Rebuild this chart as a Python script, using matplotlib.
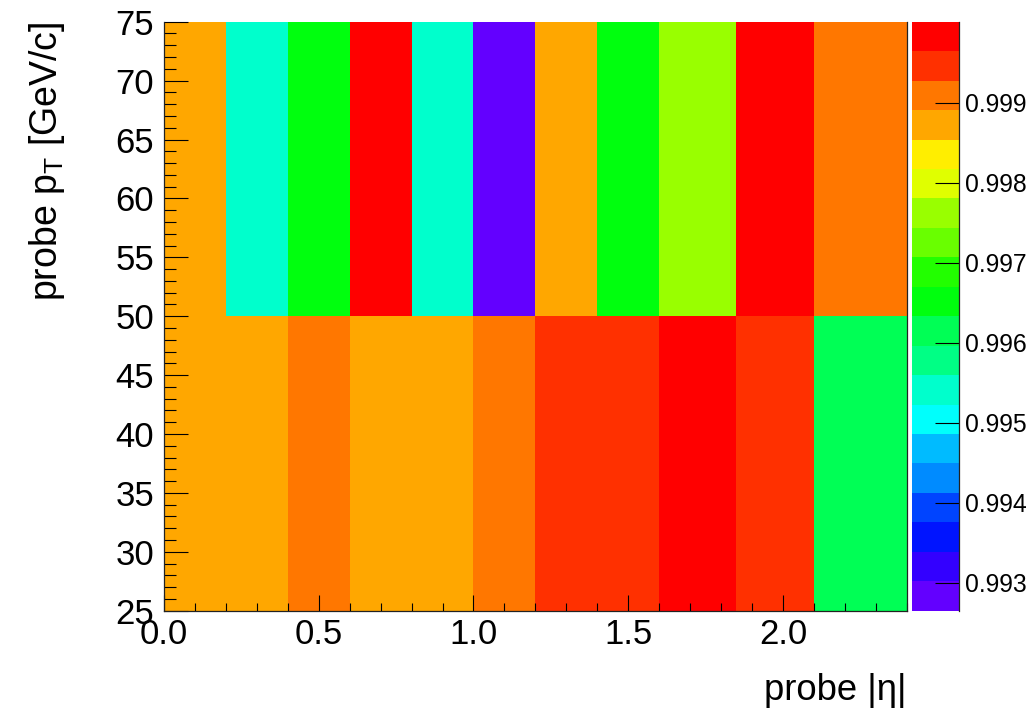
import colorsys
import numpy as np
import matplotlib
matplotlib.use("Agg")
import matplotlib.pyplot as plt
from matplotlib.colors import ListedColormap, BoundaryNorm
from matplotlib.ticker import MultipleLocator, FormatStrFormatter

plt.rcParams['font.family'] = ['Liberation Sans', 'DejaVu Sans']
plt.rcParams['mathtext.fontset'] = 'custom'
plt.rcParams['mathtext.rm'] = 'Liberation Sans'
plt.rcParams['mathtext.it'] = 'Liberation Sans'

# bin edges
eta_edges = [0.0, 0.2, 0.4, 0.6, 0.8, 1.0, 1.2, 1.4, 1.6, 1.85, 2.1, 2.4]
pt_edges = [25, 50, 75]

# efficiency per bin (rows: pt bins, cols: eta bins)
eff_pt25_50 = [0.9987, 0.9987, 0.9991, 0.9987, 0.9987, 0.9991,
               0.9995, 0.9995, 0.9998, 0.9995, 0.9961]
eff_pt50_75 = [0.9987, 0.9954, 0.9965, 1.0000, 0.9954, 0.99266,
               0.9987, 0.9965, 0.9976, 0.9999, 0.9991]

z_min = 0.99265
z_max = 1.00001
n_contours = 20
cbar_ticks = [0.993, 0.994, 0.995, 0.996, 0.997, 0.998, 0.999]

# ROOT "pretty" palette (50 colours, violet -> red), sampled for 20 contours
palette = []
for i in range(50):
    hue = 280 - (i + 1) * 5.6
    palette.append(colorsys.hls_to_rgb(hue / 360.0, 0.5, 1.0))
cols = [palette[int((k + 0.99) * 50 / n_contours)] for k in range(n_contours)]
cmap = ListedColormap(cols)
levels = np.linspace(z_min, z_max, n_contours + 1)
norm = BoundaryNorm(levels, cmap.N)

fig = plt.figure(figsize=(10.32, 7.13), dpi=100)
W, H = 1032.0, 713.0
ax = fig.add_axes([164 / W, 1 - 610.7 / H, (906.7 - 164) / W, (610.7 - 21.7) / H])
cax = fig.add_axes([911.7 / W, 1 - 610.7 / H, (959.3 - 911.7) / W, (610.7 - 21.7) / H])

Z = np.array([eff_pt25_50, eff_pt50_75])
mesh = ax.pcolormesh(eta_edges, pt_edges, Z, cmap=cmap, norm=norm)

ax.set_xlim(0, 2.4)
ax.set_ylim(25, 75)
ax.xaxis.set_major_locator(MultipleLocator(0.5))
ax.xaxis.set_minor_locator(MultipleLocator(0.1))
ax.xaxis.set_major_formatter(FormatStrFormatter('%.1f'))
ax.yaxis.set_major_locator(MultipleLocator(5))
ax.yaxis.set_minor_locator(MultipleLocator(1))

ax.tick_params(axis='x', which='major', direction='in', length=11.5, width=0.8,
               labelsize=25, pad=5.5, top=False)
ax.tick_params(axis='x', which='minor', direction='in', length=5.8, width=0.8, top=False)
ax.tick_params(axis='y', which='major', direction='in', length=17.3, width=0.8,
               labelsize=25, pad=7, right=False)
ax.tick_params(axis='y', which='minor', direction='in', length=8.6, width=0.8, right=False)

ax.spines['top'].set_visible(False)
for s in ['left', 'bottom', 'right']:
    ax.spines[s].set_linewidth(0.9)
    ax.spines[s].set_color('#222222')

cb = fig.colorbar(mesh, cax=cax, spacing='proportional')
cb.outline.set_visible(False)
cax.spines['right'].set_visible(True)
cax.spines['right'].set_linewidth(0.9)
cax.spines['right'].set_color('#222222')
cb.set_ticks(cbar_ticks)
cax.yaxis.set_major_formatter(FormatStrFormatter('%.3f'))
cax.minorticks_off()
cax.tick_params(axis='y', which='major', direction='in', length=17.3, width=0.8,
                labelsize=17.8, pad=4, right=True, left=False)

fig.text(906.7 / W, 1 - 700 / H, 'probe |\u03b7|', fontsize=26.3, ha='right', va='baseline')
fig.text(57 / W, 1 - 21.7 / H, r'probe p$_{\mathrm{T}}$ [GeV/c]', fontsize=27,
         rotation=90, rotation_mode='anchor', ha='right', va='baseline')

fig.savefig('out.png', dpi=100)
